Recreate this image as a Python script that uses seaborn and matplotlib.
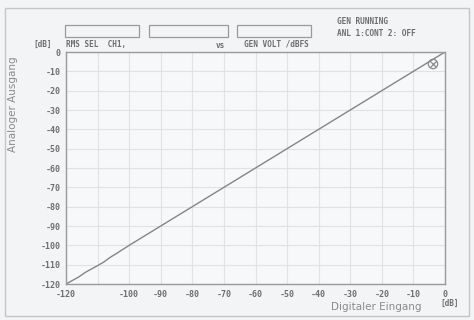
import matplotlib
matplotlib.use("Agg")
import matplotlib.pyplot as plt
import seaborn as sns
import pandas as pd
from matplotlib.patches import Rectangle

# ---- data ----
digital_in = [-120, -118, -116, -114, -112, -110, -108, -106, -104, -100, -80, -60, -40, -20, 0]
analog_out = [-120, -118.2, -116.4, -114.1, -112.3, -110.5, -108.6, -106.2, -104.2, -100, -80, -60, -40, -20, 0]
marker_x = [-3.8]
marker_y = [-6.2]
x_ticks = [-120, -100, -90, -80, -70, -60, -50, -40, -30, -20, -10, 0]
x_grid = list(range(-120, 1, 10))
y_ticks = list(range(-120, 1, 10))

sns.set_theme(style="white")
W, H = 474, 320
fig = plt.figure(figsize=(W / 100, H / 100), dpi=100)
fig.patch.set_facecolor("#f3f4f5")

def fx(px):
    return px / W

def fy(py):
    return 1 - py / H

ax = fig.add_axes([fx(66), fy(284), fx(445) - fx(66), fy(52) - fy(284)])
ax.set_facecolor("#f7f8f9")

df = pd.DataFrame({"x": digital_in, "y": analog_out})
sns.lineplot(data=df, x="x", y="y", ax=ax, color="#858585", linewidth=1.0)
sns.scatterplot(x=marker_x, y=marker_y, ax=ax, marker="o", s=45,
                facecolors="none", edgecolors="#8a8a8a", linewidth=0.9, zorder=5)
sns.scatterplot(x=marker_x, y=marker_y, ax=ax, marker="x", s=22,
                color="#8a8a8a", linewidth=0.9, zorder=5)

ax.set_xlim(-120, 0)
ax.set_ylim(-120, 0)
ax.set_xticks(x_grid)
ax.set_xticklabels([str(v) if v in x_ticks else "" for v in x_grid])
ax.set_yticks(y_ticks)
ax.set_yticklabels([str(v) for v in y_ticks])
ax.grid(True, color="#e0e2e4", linewidth=0.8)
ax.tick_params(length=0, pad=4, labelsize=6, labelcolor="#6e6e6e")
for lab in ax.get_xticklabels() + ax.get_yticklabels():
    lab.set_family("DejaVu Sans Mono")
    lab.set_fontweight("bold")
ax.set_xlabel("")
ax.set_ylabel("")
for s in ax.spines.values():
    s.set_color("#9a9a9a")
    s.set_linewidth(1.0)

# outer frame
fig.patches.append(Rectangle((fx(5), fy(316)), fx(469) - fx(5), fy(8) - fy(316),
                             transform=fig.transFigure, fill=False,
                             edgecolor="#c4c6c8", linewidth=1.0))
# header boxes
for x0, x1 in [(65, 139), (149, 228), (237, 311)]:
    fig.patches.append(Rectangle((fx(x0), fy(37)), fx(x1) - fx(x0), fy(25) - fy(37),
                                 transform=fig.transFigure, fill=False,
                                 edgecolor="#9a9a9a", linewidth=0.9))

mono = dict(family="DejaVu Sans Mono", fontsize=5.6, color="#6e6e6e", fontweight="bold", va="center")
fig.text(fx(33), fy(44), "[dB]", **mono)
fig.text(fx(66), fy(44), "RMS SEL  CH1,", **mono)
fig.text(fx(216), fy(45), "vs", **mono)
fig.text(fx(244), fy(44), "GEN VOLT /dBFS", **mono)
fig.text(fx(337), fy(21), "GEN RUNNING", **mono)
fig.text(fx(337), fy(33), "ANL 1:CONT 2: OFF", **mono)
fig.text(fx(440), fy(303), "[dB]", **mono)

sans = dict(family="DejaVu Sans", fontsize=7.5, color="#8a8a8a")
fig.text(fx(376), fy(307), "Digitaler Eingang", ha="center", va="center", **sans)
fig.text(fx(13), fy(104), "Analoger Ausgang", ha="center", va="center", rotation=90, **sans)

fig.savefig("out.png", dpi=100, facecolor=fig.get_facecolor())
